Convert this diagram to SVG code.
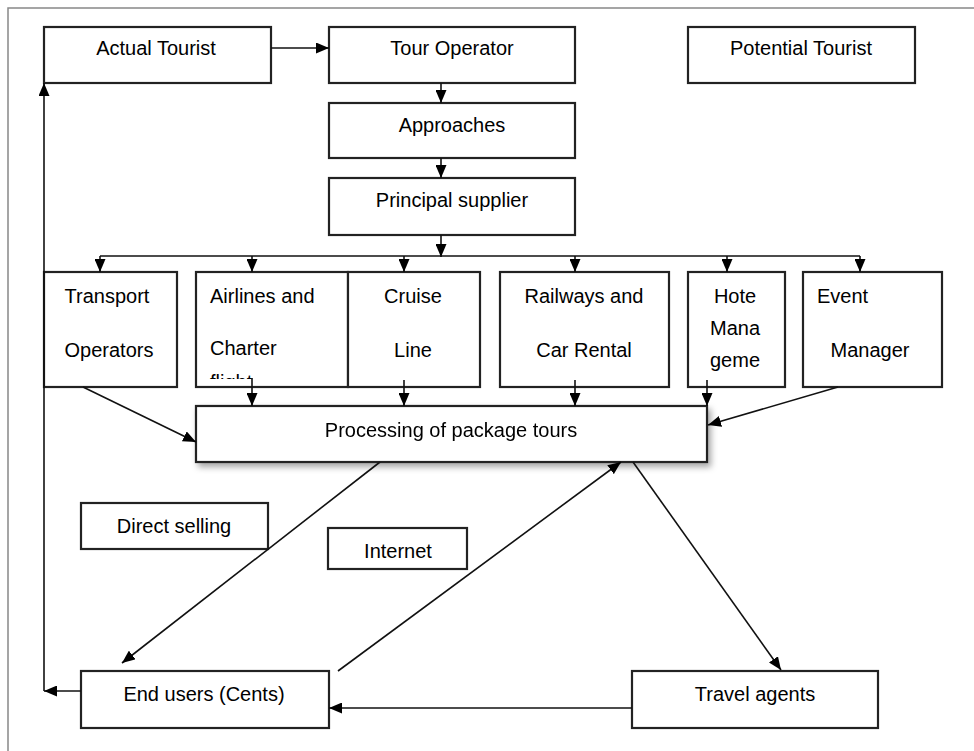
<svg xmlns="http://www.w3.org/2000/svg" width="974" height="751" viewBox="0 0 974 751">
<style>
.box{fill:#fff;stroke:#222;stroke-width:2.2}
.t{font-family:"Liberation Sans",Arial,sans-serif;font-size:20px;fill:#000;text-anchor:middle}
.s{text-anchor:start}
.c{fill:none;stroke:#111;stroke-width:1.6}
</style>
<defs>
<marker id="ah" markerUnits="userSpaceOnUse" markerWidth="14" markerHeight="11" refX="13" refY="5.5" orient="auto">
<path d="M0,0 L13,5.5 L0,11 z" fill="#000"/>
</marker>
<filter id="sh" x="-5%" y="-20%" width="115%" height="160%">
<feDropShadow dx="3" dy="4" stdDeviation="3" flood-color="#000" flood-opacity="0.35"/>
</filter>
<clipPath id="clipAir"><rect x="196" y="272" width="152" height="107"/></clipPath>
</defs>
<rect width="974" height="751" fill="#fff"/>
<path d="M8,751 V8 H974" fill="none" stroke="#888" stroke-width="1.5"/>

<g id="actual-tourist"><rect class="box" x="44" y="27" width="227" height="56"/><text class="t" x="156" y="55">Actual Tourist</text></g>
<g id="tour-operator"><rect class="box" x="329" y="27" width="246" height="56"/><text class="t" x="452" y="55">Tour Operator</text></g>
<g id="potential-tourist"><rect class="box" x="688" y="27" width="227" height="56"/><text class="t" x="801" y="55">Potential Tourist</text></g>
<g id="approaches"><rect class="box" x="329" y="103" width="246" height="55"/><text class="t" x="452" y="132">Approaches</text></g>
<g id="principal-supplier"><rect class="box" x="329" y="178" width="246" height="57"/><text class="t" x="452" y="207">Principal supplier</text></g>

<g id="transport-operators"><rect class="box" x="44" y="272" width="133" height="115"/><text class="t" x="107" y="303">Transport</text><text class="t" x="109" y="357">Operators</text></g>
<g id="airlines"><rect class="box" x="196" y="272" width="152" height="115"/><text class="t s" x="210" y="303">Airlines and</text><text class="t s" x="210" y="355">Charter</text><text class="t s" x="210" y="389" clip-path="url(#clipAir)">flight</text></g>
<g id="cruise-line"><rect class="box" x="348" y="272" width="132" height="115"/><text class="t" x="413" y="303">Cruise</text><text class="t" x="413" y="357">Line</text></g>
<g id="railways"><rect class="box" x="500" y="272" width="169" height="115"/><text class="t" x="584" y="303">Railways and</text><text class="t" x="584" y="357">Car Rental</text></g>
<g id="hotel"><rect class="box" x="688" y="272" width="97" height="115"/><text class="t" x="735" y="303">Hote</text><text class="t" x="735" y="335">Mana</text><text class="t" x="735" y="367">geme</text></g>
<g id="event-manager"><rect class="box" x="803" y="272" width="139" height="115"/><text class="t s" x="817" y="303">Event</text><text class="t" x="870" y="357">Manager</text></g>

<g id="processing" filter="url(#sh)"><rect class="box" x="196" y="406" width="511" height="56"/><text class="t" x="451" y="437">Processing of package tours</text></g>

<g id="direct-selling"><rect class="box" x="81" y="503" width="187" height="46"/><text class="t" x="174" y="533">Direct selling</text></g>
<g id="internet"><rect class="box" x="328" y="528" width="139" height="41"/><text class="t" x="398" y="558">Internet</text></g>
<g id="end-users"><rect class="box" x="81" y="671" width="248" height="57"/><text class="t" x="204" y="701">End users (Cents)</text></g>
<g id="travel-agents"><rect class="box" x="632" y="671" width="246" height="57"/><text class="t" x="755" y="701">Travel agents</text></g>

<g id="connectors">
<line class="c" x1="271" y1="48" x2="329" y2="48" marker-end="url(#ah)"/>
<line class="c" x1="441" y1="83" x2="441" y2="103" marker-end="url(#ah)"/>
<line class="c" x1="441" y1="158" x2="441" y2="178" marker-end="url(#ah)"/>
<line class="c" x1="441" y1="235" x2="441" y2="257" marker-end="url(#ah)"/>
<line class="c" x1="100" y1="256" x2="860" y2="256"/>
<line class="c" x1="100" y1="256" x2="100" y2="272" marker-end="url(#ah)"/>
<line class="c" x1="252" y1="256" x2="252" y2="272" marker-end="url(#ah)"/>
<line class="c" x1="404" y1="256" x2="404" y2="272" marker-end="url(#ah)"/>
<line class="c" x1="575" y1="256" x2="575" y2="272" marker-end="url(#ah)"/>
<line class="c" x1="727" y1="256" x2="727" y2="272" marker-end="url(#ah)"/>
<line class="c" x1="860" y1="256" x2="860" y2="272" marker-end="url(#ah)"/>
<line class="c" x1="252" y1="378" x2="252" y2="406" marker-end="url(#ah)"/>
<line class="c" x1="404" y1="380" x2="404" y2="406" marker-end="url(#ah)"/>
<line class="c" x1="575" y1="380" x2="575" y2="406" marker-end="url(#ah)"/>
<line class="c" x1="707" y1="380" x2="707" y2="406" marker-end="url(#ah)"/>
<line class="c" x1="83" y1="387" x2="196" y2="442" marker-end="url(#ah)"/>
<line class="c" x1="838" y1="387" x2="708" y2="425" marker-end="url(#ah)"/>
<line class="c" x1="380" y1="462" x2="122" y2="663" marker-end="url(#ah)"/>
<line class="c" x1="338" y1="671" x2="621" y2="462" marker-end="url(#ah)"/>
<line class="c" x1="633" y1="462" x2="781" y2="670" marker-end="url(#ah)"/>
<line class="c" x1="632" y1="708" x2="329" y2="708" marker-end="url(#ah)"/>
<line class="c" x1="81" y1="691" x2="44" y2="691" marker-end="url(#ah)"/>
<line class="c" x1="44" y1="691" x2="44" y2="83" marker-end="url(#ah)"/>
</g>
</svg>
